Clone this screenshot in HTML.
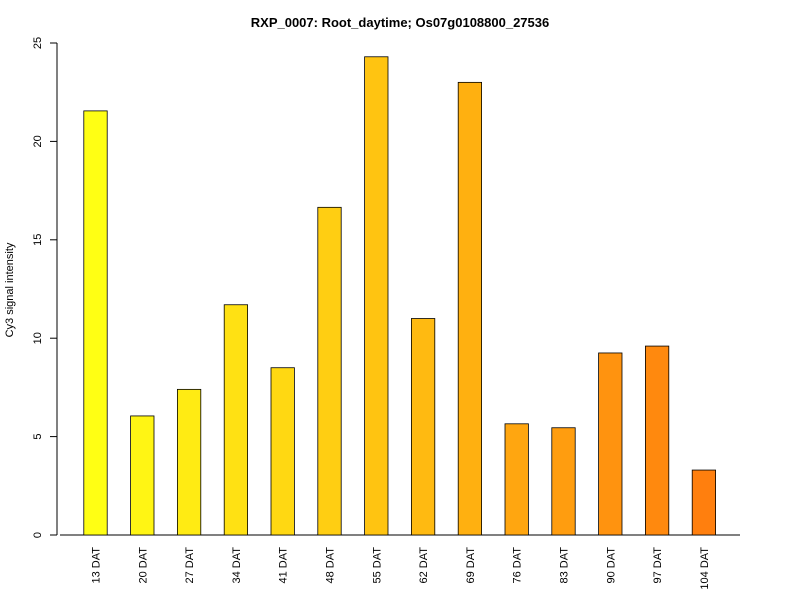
<!DOCTYPE html>
<html><head><meta charset="utf-8"><style>
body{margin:0;background:#fff;}
svg{font-family:"Liberation Sans",Arial,sans-serif;}
</style></head><body>
<svg id="c" width="800" height="600" xmlns="http://www.w3.org/2000/svg">
<text x="400" y="27" text-anchor="middle" font-weight="bold" font-size="13">RXP_0007: Root_daytime; Os07g0108800_27536</text>
<text transform="translate(13,290) rotate(-90)" text-anchor="middle" font-size="11">Cy3 signal intensity</text>
<g id="bars"></g><g id="yaxis"></g><g id="xlabels"></g>
</svg>
<script>
const categories=["13 DAT","20 DAT","27 DAT","34 DAT","41 DAT","48 DAT","55 DAT","62 DAT","69 DAT","76 DAT","83 DAT","90 DAT","97 DAT","104 DAT"];
const values=[21.55,6.05,7.4,11.7,8.5,16.65,24.3,11.0,23.0,5.65,5.45,9.25,9.6,3.3];
const yTicks=[0,5,10,15,20,25];
const NS="http://www.w3.org/2000/svg";
const y0=535,yTop=43,yMax=25;
const y=v=>y0-(y0-yTop)*v/yMax;
const x=i=>95.5+i*46.8;
const bw=23.4;
const bars=document.getElementById('bars'),ya=document.getElementById('yaxis'),xl=document.getElementById('xlabels');
function mk(t,a,p){const e=document.createElementNS(NS,t);for(const k in a)e.setAttribute(k,a[k]);p.appendChild(e);return e;}
const base=mk('line',{x1:60,x2:740,y1:y0,y2:y0,stroke:'#000'},bars);


values.forEach((v,i)=>{
 const t=values.length>1?i/(values.length-1):0;
 const g=Math.round(255-t*(255-127)),b=Math.round(20-t*6);
 const r=mk('rect',{x:x(i)-bw/2,y:y(v),width:bw,height:y0-y(v),fill:`rgb(255,${g},${b})`,stroke:'#000','stroke-width':0.8},bars);
 
 
 const tx=mk('text',{transform:`translate(${x(i)+4},${y0+12}) rotate(-90)`,'text-anchor':'end','font-size':11},xl);
 tx.textContent=categories[i];
 
 
});
const al=mk('line',{x1:57,x2:57,y1:y(yTicks[0]),y2:y(yTicks[yTicks.length-1]),stroke:'#000'},ya);


yTicks.forEach(t=>{
 const l=mk('line',{x1:50,x2:57,y1:y(t),y2:y(t),stroke:'#000'},ya);
 
 
 const tx=mk('text',{transform:`translate(41,${y(t)}) rotate(-90)`,'text-anchor':'middle','font-size':11},ya);
 tx.textContent=t;
 
 
});
</script>
</body></html>
